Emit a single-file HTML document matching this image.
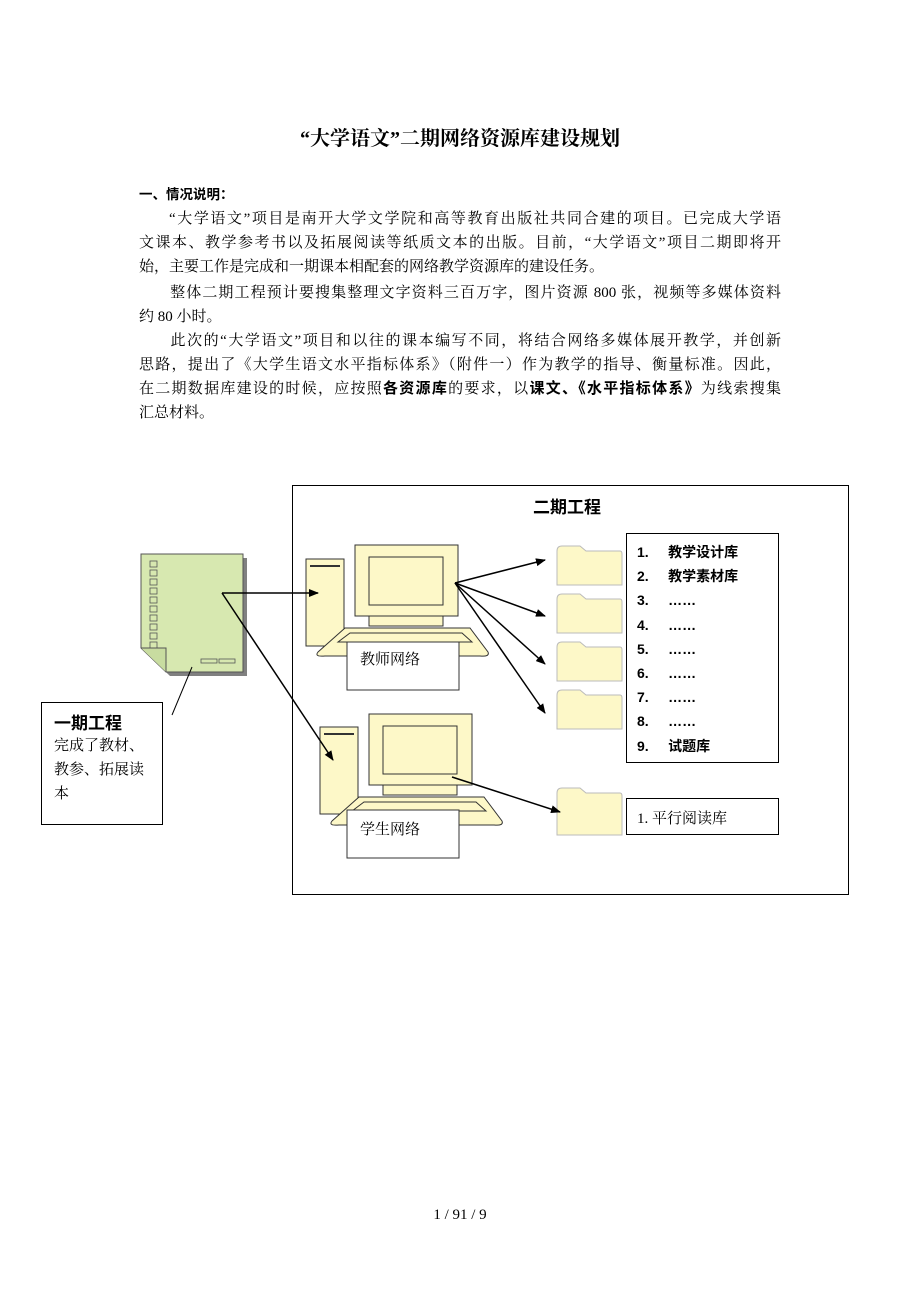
<!DOCTYPE html>
<html><head><meta charset="utf-8"><style>
body{margin:0;background:#fff;}
.pg{position:relative;width:920px;height:1302px;font-family:"Liberation Serif","Noto Serif CJK SC","Noto Sans CJK SC",serif;color:#000;}
.t{position:absolute;white-space:nowrap;}
p.l{position:absolute;left:139px;margin:0;font-size:15px;line-height:24px;white-space:nowrap;}
p.j{width:642px;text-align:justify;text-align-last:justify;}
.s{font-family:"Liberation Sans","Noto Sans CJK SC",sans-serif;}
</style></head><body><div class="pg">
<div class="t" style="left:0;width:920px;text-align:center;top:122px;font-size:20px;font-weight:bold;">“大学语文”二期网络资源库建设规划</div>
<p class="l s" style="top:183px;font-weight:bold;font-size:13.5px;">一、情况说明：</p>
<p class="l j" style="top:207px;">&emsp;&emsp;“大学语文”项目是南开大学文学院和高等教育出版社共同合建的项目。已完成大学语</p>
<p class="l j" style="top:231px;">文课本、教学参考书以及拓展阅读等纸质文本的出版。目前，“大学语文”项目二期即将开</p>
<p class="l" style="top:255px;">始，主要工作是完成和一期课本相配套的网络教学资源库的建设任务。</p>
<p class="l j" style="top:281px;">&emsp;&emsp;整体二期工程预计要搜集整理文字资料三百万字，图片资源 800 张，视频等多媒体资料</p>
<p class="l" style="top:305px;">约 80 小时。</p>
<p class="l j" style="top:329px;">&emsp;&emsp;此次的“大学语文”项目和以往的课本编写不同，将结合网络多媒体展开教学，并创新</p>
<p class="l j" style="top:353px;">思路，提出了《大学生语文水平指标体系》（附件一）作为教学的指导、衡量标准。因此，</p>
<p class="l j" style="top:377px;">在二期数据库建设的时候，应按照<b class="s">各资源库</b>的要求，以<b class="s">课文、《水平指标体系》</b>为线索搜集</p>
<p class="l" style="top:401px;">汇总材料。</p>

<svg width="920" height="1302" style="position:absolute;left:0;top:0" xmlns="http://www.w3.org/2000/svg">
<defs><marker id="a" markerWidth="10" markerHeight="8" refX="9" refY="4" orient="auto" markerUnits="userSpaceOnUse"><path d="M0,0 L10,4 L0,8 z"/></marker></defs>
<rect x="292.5" y="485.5" width="556" height="409" fill="none" stroke="#000"/>
<path d="M145,558 H247 V676 H170 L145,652 Z" fill="#808080"/>
<path d="M141,554 H243 V672 H166 L141,648 Z" fill="#d7e8b0" stroke="#555"/>
<path d="M141,648 H166 V672" fill="#c8dca0" stroke="#555"/>
<g fill="none" stroke="#555" stroke-width="0.8">
<rect x="150" y="561" width="7" height="6"/><rect x="150" y="570" width="7" height="6"/><rect x="150" y="579" width="7" height="6"/><rect x="150" y="588" width="7" height="6"/><rect x="150" y="597" width="7" height="6"/><rect x="150" y="606" width="7" height="6"/><rect x="150" y="615" width="7" height="6"/><rect x="150" y="624" width="7" height="6"/><rect x="150" y="633" width="7" height="6"/><rect x="150" y="642" width="7" height="6"/>
<rect x="201" y="659" width="16" height="4"/><rect x="219" y="659" width="16" height="4"/></g>
<line x1="172" y1="715" x2="192" y2="667" stroke="#000"/>
<rect x="41.5" y="702.5" width="121" height="122" fill="#fff" stroke="#000"/>
<g stroke="#333" fill="#fdf8c8">
<rect x="306" y="559" width="38" height="87"/><line x1="310" y1="566" x2="340" y2="566" stroke-width="2"/>
<rect x="355" y="545" width="103" height="71"/><rect x="369" y="557" width="74" height="48"/>
<rect x="369" y="616" width="74" height="10"/>
<path d="M318,652 L345,628 H470 L488,652 Q490,657 480,656 H325 Q314,657 318,652 Z"/>
<path d="M338,642 L350,633 H462 L472,642 Z" fill="none"/>
<rect x="347" y="642" width="112" height="48" fill="#fff"/>
<rect x="320" y="727" width="38" height="87"/><line x1="324" y1="734" x2="354" y2="734" stroke-width="2"/>
<rect x="369" y="714" width="103" height="71"/><rect x="383" y="726" width="74" height="48"/>
<rect x="383" y="785" width="74" height="10"/>
<path d="M332,821 L359,797 H484 L502,821 Q504,826 494,825 H339 Q328,826 332,821 Z"/>
<path d="M352,811 L364,802 H476 L486,811 Z" fill="none"/>
<rect x="347" y="810" width="112" height="48" fill="#fff"/>
</g>
<g fill="#fdf8c8" stroke="#bbb">
<path d="M557,585 V551 Q557,546 562,546 H580 L586,551 H620 Q622,551 622,554 V585 Z"/>
<path d="M557,633 V599 Q557,594 562,594 H580 L586,599 H620 Q622,599 622,602 V633 Z"/>
<path d="M557,681 V647 Q557,642 562,642 H580 L586,647 H620 Q622,647 622,650 V681 Z"/>
<path d="M557,729 V695 Q557,690 562,690 H580 L586,695 H620 Q622,695 622,698 V729 Z"/>
<path d="M557,835 V793 Q557,788 562,788 H580 L586,793 H620 Q622,793 622,796 V835 Z"/>
</g>
<rect x="626.5" y="533.5" width="152" height="229" fill="#fff" stroke="#000"/>
<rect x="626.5" y="798.5" width="152" height="36" fill="#fff" stroke="#000"/>
<g stroke="#000" stroke-width="1.5" fill="none" marker-end="url(#a)">
<line x1="222" y1="593" x2="318" y2="593"/>
<line x1="222" y1="593" x2="333" y2="760"/>
<line x1="455" y1="583" x2="545" y2="560"/>
<line x1="455" y1="583" x2="545" y2="616"/>
<line x1="455" y1="583" x2="545" y2="664"/>
<line x1="455" y1="583" x2="545" y2="713"/>
<line x1="452" y1="777" x2="560" y2="812"/>
</g>
</svg>
<div class="t s" style="left:533px;top:493px;font-size:17px;font-weight:bold;">二期工程</div>
<div class="t s" style="left:54px;top:709px;font-size:17px;font-weight:bold;">一期工程</div>
<div class="t" style="left:54px;top:734px;font-size:15px;line-height:24px;">完成了教材、<br>教参、拓展读<br>本</div>
<div class="t" style="left:360px;top:648px;font-size:15px;">教师网络</div>
<div class="t" style="left:360px;top:818px;font-size:15px;">学生网络</div>
<div class="t s" style="left:637px;top:540px;font-size:14px;line-height:24.2px;font-weight:bold;">1.&nbsp;&nbsp;&nbsp;&nbsp;&nbsp;教学设计库<br>2.&nbsp;&nbsp;&nbsp;&nbsp;&nbsp;教学素材库<br>3.&nbsp;&nbsp;&nbsp;&nbsp;&nbsp;……<br>4.&nbsp;&nbsp;&nbsp;&nbsp;&nbsp;……<br>5.&nbsp;&nbsp;&nbsp;&nbsp;&nbsp;……<br>6.&nbsp;&nbsp;&nbsp;&nbsp;&nbsp;……<br>7.&nbsp;&nbsp;&nbsp;&nbsp;&nbsp;……<br>8.&nbsp;&nbsp;&nbsp;&nbsp;&nbsp;……<br>9.&nbsp;&nbsp;&nbsp;&nbsp;&nbsp;试题库</div>
<div class="t" style="left:637px;top:807px;font-size:15px;">1. 平行阅读库</div>
<div class="t" style="left:0;width:920px;text-align:center;top:1207px;font-size:15px;">1 / 91 / 9</div>
</div></body></html>
